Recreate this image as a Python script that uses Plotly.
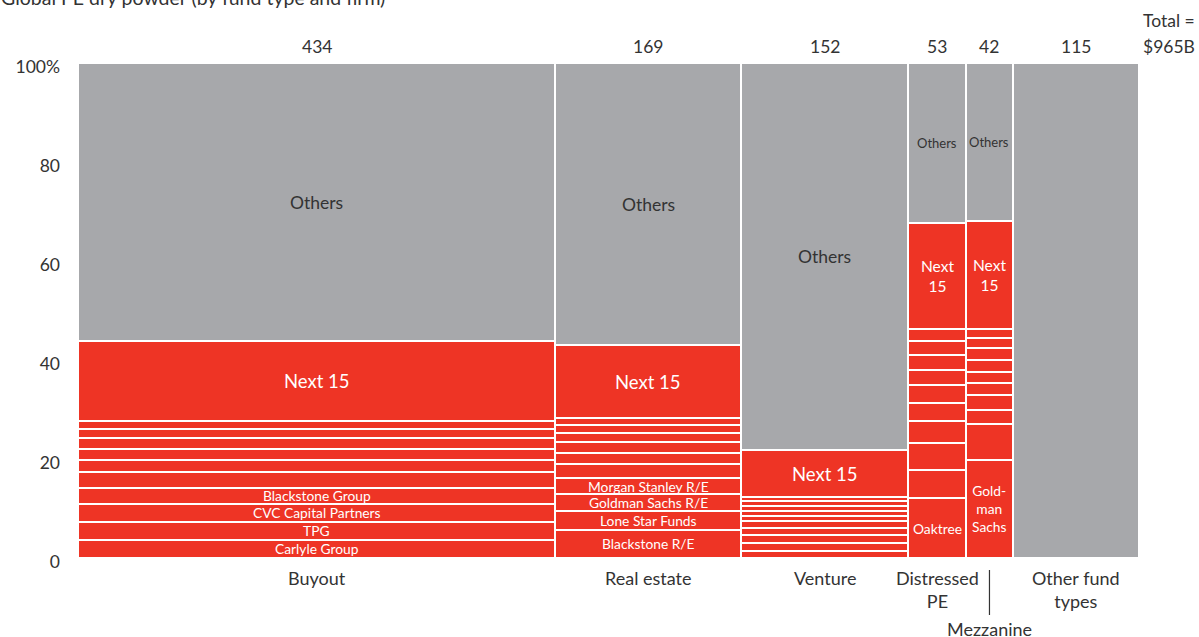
import plotly.graph_objects as go

# ---------------- data ----------------
fund_types = ["Buyout", "Real estate", "Venture", "Distressed PE", "Mezzanine", "Other fund types"]
fund_totals = [434, 169, 152, 53, 42, 115]  # $B dry powder per fund type (bar widths)

# Share (%) of each fund type held by the top-10 firms, listed bottom-up
buyout_top10 = [3.64, 3.69, 3.64, 3.23, 3.17, 2.37, 2.34, 2.22, 1.82, 1.62]
real_estate_top10 = [5.66, 3.84, 3.43, 3.17, 2.89, 2.28, 2.16, 1.88, 1.56, 1.35]
venture_top10 = [1.47, 1.56, 1.56, 1.41, 1.41, 1.14, 1.01, 0.94, 0.95, 0.81]
distressed_top10 = [12.06, 5.74, 5.5, 4.4, 3.7, 3.55, 3.05, 3.0, 2.9, 2.3]
mezzanine_top10 = [19.9, 7.1, 2.9, 3.0, 2.5, 2.2, 2.4, 2.4, 2.0, 1.8]
other_top10 = []

# Share (%) held by the next 15 firms
next15_share = [16.1, 14.81, 9.54, 21.5, 21.95, 0]

# Labels of named top-10 firms (bottom-up)
buyout_labels = ["Carlyle Group", "TPG", "CVC Capital Partners", "Blackstone Group"]
real_estate_labels = ["Blackstone R/E", "Lone Star Funds", "Goldman Sachs R/E", "Morgan Stanley R/E"]
venture_labels = []
distressed_labels = ["Oaktree"]
mezzanine_labels = ["Gold-<br>man<br>Sachs"]
other_labels = []

y_tick_vals = [0, 20, 40, 60, 80, 100]
y_tick_text = ["0", "20", "40", "60", "80", "100%"]

title_text = "Global PE dry powder (by fund type and firm)"
total_line1 = "Total ="
total_line2 = "$965B"

# ---------------- styling ----------------
RED = "#ee3425"
GREY = "#a7a8ab"
DARK = "#333333"
FONT = "Lato"

top10_all = [buyout_top10, real_estate_top10, venture_top10, distressed_top10, mezzanine_top10, other_top10]
labels_all = [buyout_labels, real_estate_labels, venture_labels, distressed_labels, mezzanine_labels, other_labels]
narrow = [False, False, False, True, True, False]

fig = go.Figure()
annotations = []

left = 0
for i, ft in enumerate(fund_types):
    w = fund_totals[i]
    cx = left + w / 2
    heights, bases, colors = [], [], []
    b = 0
    for j, h in enumerate(top10_all[i]):
        heights.append(h); bases.append(b); colors.append(RED)
        if j < len(labels_all[i]):
            annotations.append(dict(x=cx, y=b + h / 2, text=labels_all[i][j], showarrow=False,
                                    font=dict(family=FONT, size=13.8, color="white")))
        b += h
    if next15_share[i] > 0:
        h = next15_share[i]
        heights.append(h); bases.append(b); colors.append(RED)
        annotations.append(dict(x=cx, y=b + h / 2,
                                text="Next<br>15" if narrow[i] else "Next 15", showarrow=False,
                                font=dict(family=FONT, size=15.5 if narrow[i] else 18.5, color="white")))
        b += h
    h = 100 - b
    heights.append(h); bases.append(b); colors.append(GREY)
    if i < len(fund_types) - 1:
        annotations.append(dict(x=cx, y=b + h / 2, text="Others", showarrow=False,
                                font=dict(family=FONT, size=13 if narrow[i] else 17.5, color=DARK)))
    fig.add_trace(go.Bar(x=[cx] * len(heights), y=heights, base=bases, width=[w] * len(heights),
                         marker=dict(color=colors, line=dict(color="white", width=2)),
                         showlegend=False, hoverinfo="skip"))
    # total on top
    annotations.append(dict(x=cx, y=100, yanchor="middle", yshift=17, text=str(w), showarrow=False,
                            font=dict(family=FONT, size=17.5, color=DARK)))
    # category label below
    if ft == "Mezzanine":
        annotations.append(dict(x=cx, y=0, yanchor="middle", yshift=-71, text=ft, showarrow=False,
                                font=dict(family=FONT, size=18, color=DARK)))
        fig.add_shape(type="line", xref="x", yref="paper", x0=cx, x1=cx, y0=0, y1=0,
                      line=dict(color=DARK, width=1.2))
    else:
        txt = {"Distressed PE": "Distressed<br>PE", "Other fund types": "Other fund<br>types"}.get(ft, ft)
        annotations.append(dict(x=cx, y=0, yanchor="top", yshift=-7, text=txt, showarrow=False,
                                font=dict(family=FONT, size=18, color=DARK)))
    left += w

total_width = sum(fund_totals)

annotations.append(dict(x=total_width, y=100, xanchor="left", yanchor="middle", yshift=43, xshift=2,
                        text=total_line1, align="left", showarrow=False,
                        font=dict(family=FONT, size=17.5, color=DARK)))
annotations.append(dict(x=total_width, y=100, xanchor="left", yanchor="middle", yshift=17, xshift=2,
                        text=total_line2, align="left", showarrow=False,
                        font=dict(family=FONT, size=17.5, color=DARK)))
annotations.append(dict(x=0, xref="paper", xshift=-79, y=1, yref="paper", xanchor="left",
                        yanchor="bottom", yshift=52, text=title_text, showarrow=False,
                        font=dict(family=FONT, size=19.5, color=DARK)))

fig.update_layout(
    width=1199, height=637,
    margin=dict(l=78, r=60, t=63, b=79),
    paper_bgcolor="white", plot_bgcolor="white",
    barmode="overlay", bargap=0,
    annotations=annotations,
    font=dict(family=FONT, color=DARK),
    xaxis=dict(range=[0, total_width], visible=False, fixedrange=True),
    yaxis=dict(range=[0, 100], tickvals=y_tick_vals, ticktext=y_tick_text, showgrid=False,
               zeroline=False, showline=False, ticks="", ticklabelstandoff=17, ticklabelshift=4,
               tickfont=dict(family=FONT, size=17.5, color=DARK), fixedrange=True),
)

# vertical connector for the Mezzanine label (pixel positions converted to paper units)
plot_h = 637 - 63 - 79
fig.update_shapes(dict(y0=-12 / plot_h, y1=-57 / plot_h))

fig.write_html("out.html", config={"displayModeBar": False},
               post_script="document.body.style.margin='0';document.body.style.overflow='hidden';")
